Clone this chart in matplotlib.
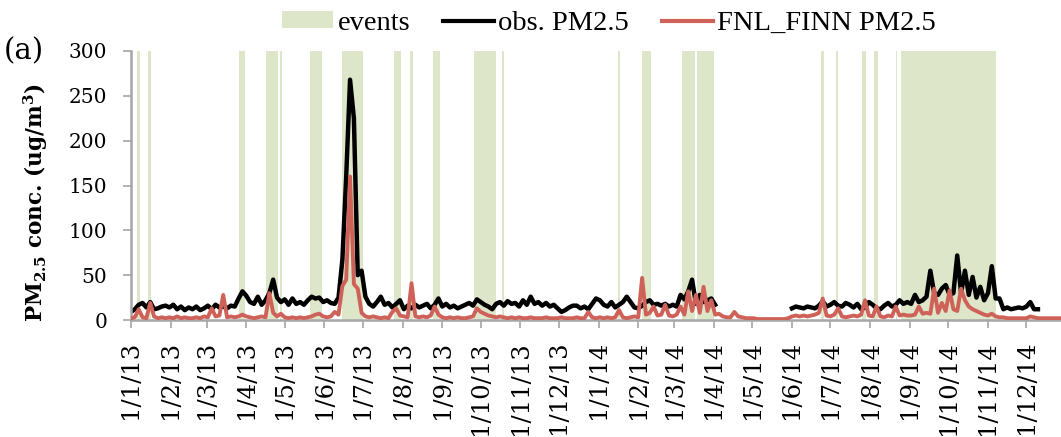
import numpy as np
import pandas as pd
import matplotlib
matplotlib.use("Agg")
from matplotlib import pyplot as plt
from matplotlib.patches import Patch
from matplotlib.lines import Line2D

# observed PM2.5, every 3 days, 1/1/13 .. 2/4/14
obs_part1 = [
    9, 12, 17, 19, 14, 20, 12, 13, 15, 16,
    14, 17, 12, 15, 11, 14, 12, 15, 11, 13,
    16, 12, 17, 14, 15, 13, 16, 15, 24, 32,
    27, 20, 18, 26, 17, 22, 30, 45, 25, 20,
    23, 17, 24, 18, 20, 17, 22, 26, 24, 25,
    20, 22, 19, 18, 25, 67, 160, 268, 225, 50,
    55, 26, 18, 15, 20, 26, 17, 19, 14, 18,
    22, 12, 16, 13, 17, 14, 16, 18, 13, 17,
    24, 15, 18, 14, 16, 13, 15, 17, 19, 16,
    23, 20, 17, 15, 12, 18, 20, 16, 21, 18,
    19, 15, 22, 17, 26, 18, 20, 16, 19, 15,
    17, 13, 9, 11, 14, 16, 16, 13, 15, 12,
    18, 24, 22, 17, 15, 20, 14, 17, 20, 26,
    20, 14, 13, 16, 20, 22, 17, 18, 16, 18,
    15, 17, 15, 28, 23, 32, 45, 18, 28, 20,
    22, 24, 17,
]
# observed PM2.5, every 3 days, 1/6/14 .. 10/12/14
obs_part2 = [
    13, 15, 14, 13, 15, 14, 13, 16, 21, 15,
    17, 20, 16, 15, 19, 17, 14, 18, 12, 14,
    20, 17, 13, 12, 16, 19, 15, 17, 22, 18,
    20, 18, 28, 20, 22, 26, 55, 30, 28, 35,
    39, 28, 30, 72, 30, 55, 28, 48, 25, 37,
    22, 30, 60, 24, 24, 12, 14, 12, 13, 14,
    13, 15, 20, 12, 12,
]
# FNL_FINN model PM2.5, every 3 days, 1/1/13 .. 31/12/14
model_pm = [
    2, 3, 12, 3, 2, 19, 4, 2, 3, 2,
    3, 2, 4, 2, 3, 2, 2, 3, 2, 4,
    3, 13, 4, 5, 28, 3, 4, 3, 4, 6,
    4, 3, 2, 3, 4, 3, 30, 8, 4, 7,
    3, 2, 3, 2, 3, 2, 3, 4, 6, 7,
    4, 3, 4, 9, 6, 38, 45, 160, 40, 35,
    8, 4, 3, 4, 3, 2, 3, 2, 9, 13,
    5, 4, 3, 41, 4, 3, 4, 3, 5, 15,
    6, 3, 2, 3, 2, 3, 2, 2, 3, 4,
    13, 9, 7, 5, 4, 3, 4, 3, 2, 3,
    2, 3, 2, 2, 3, 2, 2, 2, 3, 2,
    2, 2, 3, 2, 2, 2, 3, 2, 2, 9,
    3, 2, 3, 2, 3, 2, 3, 11, 3, 2,
    3, 4, 3, 47, 6, 8, 15, 5, 6, 17,
    5, 4, 6, 15, 6, 32, 10, 28, 8, 37,
    10, 22, 6, 7, 4, 3, 3, 9, 4, 3,
    2, 2, 2, 1, 1, 1, 1, 1, 1, 1,
    1, 2, 4, 5, 4, 5, 4, 5, 6, 8,
    24, 5, 4, 6, 13, 4, 3, 4, 5, 4,
    6, 22, 5, 4, 15, 4, 3, 5, 4, 15,
    5, 6, 5, 5, 6, 15, 7, 8, 7, 35,
    8, 19, 10, 33, 12, 10, 35, 22, 15, 12,
    10, 8, 6, 5, 7, 4, 3, 3, 2, 2,
    2, 2, 2, 2, 4, 3, 2, 2, 2, 2,
    2, 2, 2, 2,
]
# event periods (start, end)
events = [
    ("2013-01-06", "2013-01-08"), ("2013-01-14", "2013-01-17"),
    ("2013-03-26", "2013-03-31"), ("2013-04-16", "2013-04-26"),
    ("2013-04-27", "2013-04-29"), ("2013-05-21", "2013-05-30"),
    ("2013-06-15", "2013-07-01"), ("2013-07-25", "2013-07-31"),
    ("2013-08-07", "2013-08-09"), ("2013-08-25", "2013-08-30"),
    ("2013-09-26", "2013-10-13"), ("2013-10-18", "2013-10-19"),
    ("2014-01-16", "2014-01-18"), ("2014-02-04", "2014-02-11"),
    ("2014-03-07", "2014-03-17"), ("2014-03-19", "2014-04-01"),
    ("2014-06-24", "2014-06-26"), ("2014-07-05", "2014-07-07"),
    ("2014-07-26", "2014-07-29"), ("2014-08-04", "2014-08-07"),
    ("2014-08-21", "2014-08-22"), ("2014-08-25", "2014-11-07"),
]

obs_dates1 = pd.date_range("2013-01-01", periods=len(obs_part1), freq="3D")
obs_dates2 = pd.date_range("2014-06-01", periods=len(obs_part2), freq="3D")
model_dates = pd.date_range("2013-01-01", periods=len(model_pm), freq="3D")

EVENT_GREEN = "#dde6c8"
MODEL_RED = "#cf6258"
AXIS_GREY = "#a6a6a6"

plt.rcParams["font.family"] = "DejaVu Serif"
plt.rcParams["mathtext.fontset"] = "dejavuserif"

fig = plt.figure(figsize=(10.61, 4.37), dpi=100)
ax = fig.add_axes([131 / 1061, 117 / 437, 930 / 1061, 269 / 437])

for start, end in events:
    ax.axvspan(pd.Timestamp(start), pd.Timestamp(end), color=EVENT_GREEN, lw=0, zorder=0)

ax.plot(obs_dates1, obs_part1, color="black", lw=3.2, solid_joinstyle="round", zorder=2)
ax.plot(obs_dates2, obs_part2, color="black", lw=3.2, solid_joinstyle="round", zorder=2)
ax.plot(model_dates, model_pm, color=MODEL_RED, lw=2.8, solid_joinstyle="round", zorder=3)

ax.set_xlim(pd.Timestamp("2013-01-01"), pd.Timestamp("2013-01-01") + pd.Timedelta(days=726))
ax.set_ylim(0, 300)
ax.set_yticks(np.arange(0, 301, 50))

month_ticks = pd.date_range("2013-01-01", "2014-12-01", freq="MS")
ax.set_xticks(month_ticks)
ax.set_xticklabels([f"{d.day}/{d.month}/{d:%y}" for d in month_ticks], rotation=90, fontsize=17.5)
ax.tick_params(axis="y", labelsize=14.5, length=6, width=1.2, color=AXIS_GREY, pad=11)
ax.tick_params(axis="x", length=6, width=1.2, color=AXIS_GREY, pad=9)

for side in ("top", "right"):
    ax.spines[side].set_visible(False)
for side in ("left", "bottom"):
    ax.spines[side].set_color(AXIS_GREY)
    ax.spines[side].set_linewidth(1.8)

fig.text(36 / 1061, 1 - 203 / 437, r"PM$_{\mathbf{2.5}}$ conc. (ug/m$^{\mathbf{3}}$)",
         rotation=90, ha="center", va="center", fontsize=15.5, fontweight="bold")
fig.text(0.004, 1 - 51 / 437, "(a)", ha="left", va="center", fontsize=21)

handles = [
    Patch(facecolor=EVENT_GREEN, edgecolor="none", label="events"),
    Line2D([], [], color="black", lw=3, label="obs. PM2.5"),
    Line2D([], [], color=MODEL_RED, lw=3, label="FNL_FINN PM2.5"),
]
fig.legend(handles=handles, loc="center", bbox_to_anchor=(0.574, 0.947), ncol=3,
           frameon=False, prop={"family": "Liberation Serif", "size": 20.5},
           handlelength=1.8, handleheight=0.5, handletextpad=0.15, columnspacing=1.15)

fig.savefig("out.png", dpi=100)
